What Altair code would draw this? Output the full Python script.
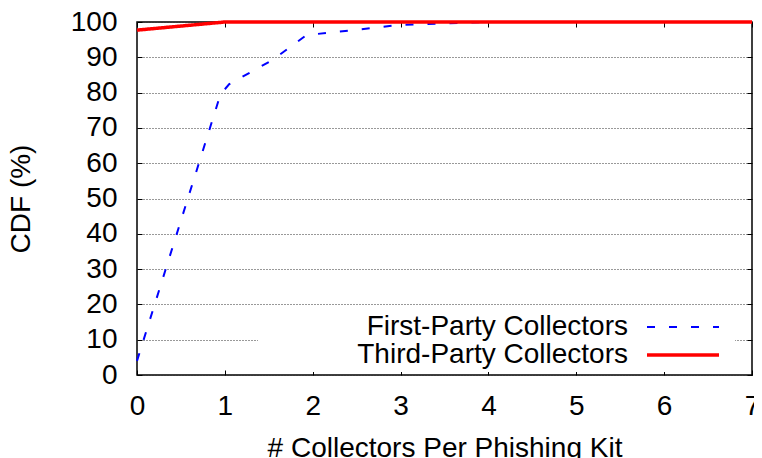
import altair as alt
import pandas as pd

# Data
first_x = [0, 0.95, 1.05, 1.54, 1.93, 2.2, 2.5, 3.0, 3.5, 4.0, 7.0]
first_y = [4, 79.5, 82.4, 89.2, 96.3, 97.0, 97.8, 99.2, 99.6, 100, 100]
third_x = [0, 1.0, 7.0]
third_y = [97.7, 100, 100]
series_names = ["First-Party Collectors", "Third-Party Collectors"]
x_ticks = [0, 1, 2, 3, 4, 5, 6, 7]
y_ticks = [0, 10, 20, 30, 40, 50, 60, 70, 80, 90, 100]

df = pd.concat([
    pd.DataFrame({"x": first_x, "y": first_y, "series": series_names[0]}),
    pd.DataFrame({"x": third_x, "y": third_y, "series": series_names[1]}),
], ignore_index=True)

FONT = "Liberation Sans"
FS = 28
W, H = 615, 353

xscale = alt.Scale(domain=[0, 7], nice=False, zero=False)
yscale = alt.Scale(domain=[0, 100], nice=False, zero=False)

color_scale = alt.Scale(domain=series_names, range=["#0000ff", "#ff0000"])
dash_scale = alt.Scale(domain=series_names, range=[[8, 14], [1, 0]])
width_scale = alt.Scale(domain=series_names, range=[2, 3.5])

lines = alt.Chart(df).mark_line().encode(
    x=alt.X("x:Q", scale=xscale,
            axis=alt.Axis(orient="bottom", values=x_ticks, title="# Collectors Per Phishing Kit",
                          offset=-5, tickSize=5, domain=False, grid=False,
                          labelPadding=17, titlePadding=14, labelFlush=False)),
    y=alt.Y("y:Q", scale=yscale,
            axis=alt.Axis(orient="left", values=y_ticks, title="CDF (%)",
                          offset=-5, tickSize=5, domain=False, grid=True,
                          labelPadding=20, titlePadding=35, labelFlush=False)),
    color=alt.Color("series:N", scale=color_scale, legend=None),
    strokeDash=alt.StrokeDash("series:N", scale=dash_scale, legend=None),
    strokeWidth=alt.StrokeWidth("series:N", scale=width_scale, legend=None),
)

mirror = alt.Chart(df).mark_point(opacity=0).encode(
    x=alt.X("x:Q", scale=xscale,
            axis=alt.Axis(orient="top", values=x_ticks, title=None, labels=False,
                          offset=-5, tickSize=5, domain=False, grid=False)),
    y=alt.Y("y:Q", scale=yscale,
            axis=alt.Axis(orient="right", values=y_ticks, title=None, labels=False,
                          offset=-5, tickSize=5, domain=False, grid=False)),
)

leg_df = pd.DataFrame({"label": series_names})

leg_bg = alt.Chart(leg_df.head(1)).mark_rect(fill="white", stroke=None).encode(
    x=alt.value(121), x2=alt.value(598), y=alt.value(288), y2=alt.value(350)
)

leg_text1 = alt.Chart(leg_df.iloc[[0]]).mark_text(
    align="right", baseline="middle", font=FONT, fontSize=FS, color="black"
).encode(text="label:N", x=alt.value(491), y=alt.value(305))
leg_text2 = alt.Chart(leg_df.iloc[[1]]).mark_text(
    align="right", baseline="middle", font=FONT, fontSize=FS, color="black"
).encode(text="label:N", x=alt.value(491), y=alt.value(333))

leg_rule1 = alt.Chart(leg_df.iloc[[0]]).mark_rule(
    color="#0000ff", strokeWidth=2, strokeDash=[8, 14]
).encode(x=alt.value(510), x2=alt.value(582), y=alt.value(305))
leg_rule2 = alt.Chart(leg_df.iloc[[1]]).mark_rule(
    color="#ff0000", strokeWidth=3.5
).encode(x=alt.value(510), x2=alt.value(582), y=alt.value(333))

chart = alt.layer(
    mirror, leg_bg, lines, leg_text1, leg_text2, leg_rule1, leg_rule2
).resolve_axis(
    x="independent", y="independent"
).properties(
    width=W, height=H,
    autosize=alt.AutoSizeParams(type="none"),
    padding={"left": 129, "top": 14, "right": 2, "bottom": 90},
).configure_view(
    stroke="black", strokeWidth=1.5
).configure_axis(
    labelFont=FONT, labelFontSize=FS, labelColor="black",
    titleFont=FONT, titleFontSize=FS, titleColor="black", titleFontWeight="normal",
    tickColor="black", tickWidth=1,
    gridColor="#333", gridDash=[1, 2], gridWidth=1, gridOpacity=1,
)

chart.save("out.html", embed_options={"renderer": "svg", "actions": False})
